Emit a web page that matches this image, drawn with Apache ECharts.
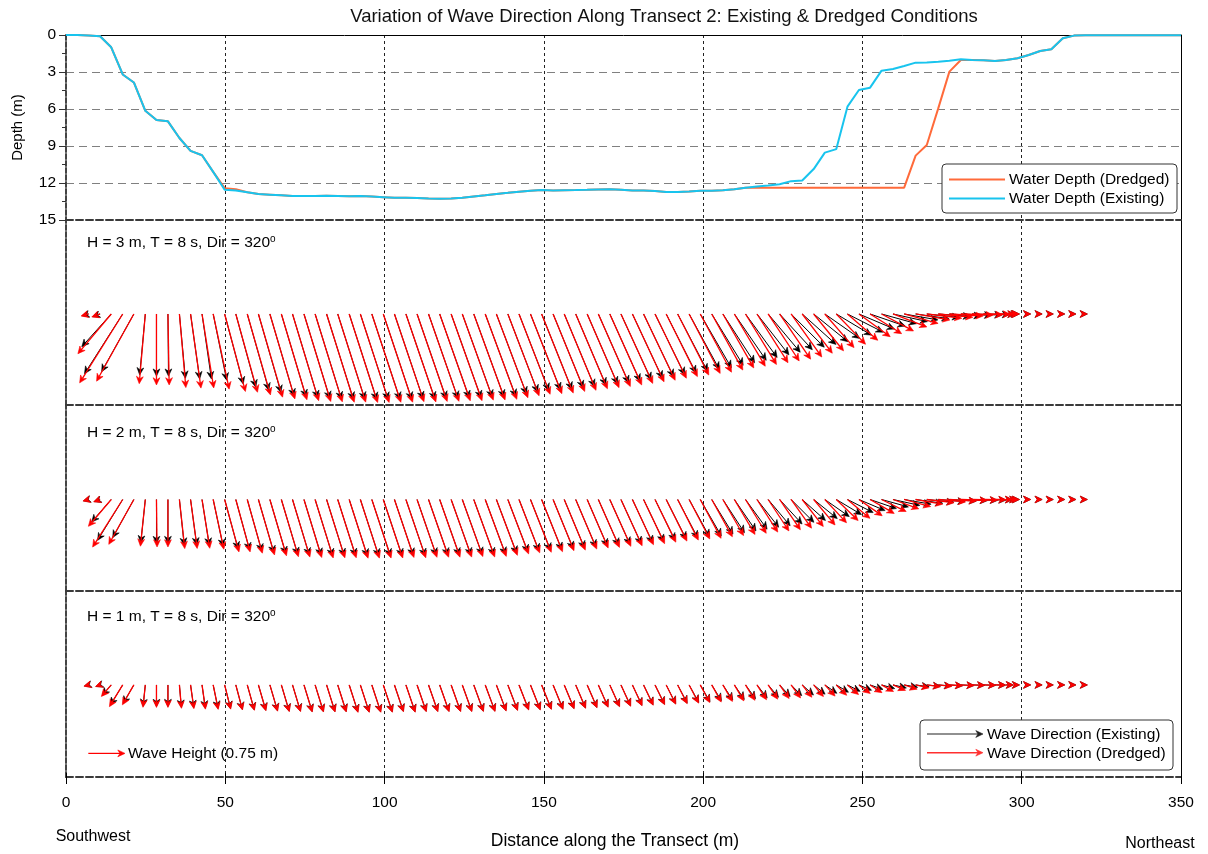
<!DOCTYPE html>
<html><head><meta charset="utf-8">
<script src="https://cdn.jsdelivr.net/npm/echarts@6/dist/echarts.min.js"></script>
<style>html,body{margin:0;padding:0;background:#fff}#c{width:1208px;height:854px}</style>
</head><body><div id="c"></div>
<script>
const FONT = '"Liberation Sans", Arial, Helvetica, sans-serif';

// ---------- DATA ----------
const xTicks = [0, 50, 100, 150, 200, 250, 300, 350];
const depthTicks = [0, 3, 6, 9, 12, 15];

// depth profile stations (m along transect)
const profileX = [
  0.0, 3.6, 7.1, 10.7, 14.2, 17.8, 21.3, 24.9, 28.4, 32.0,
  35.6, 39.1, 42.7, 46.2, 49.8, 53.3, 56.9, 60.4, 64.0, 67.6,
  71.1, 74.7, 78.2, 81.8, 85.3, 88.9, 92.4, 96.0, 99.6, 103.1,
  106.7, 110.2, 113.8, 117.3, 120.9, 124.4, 128.0, 131.6, 135.1, 138.7,
  142.2, 145.8, 149.3, 152.9, 156.4, 160.0, 163.6, 167.1, 170.7, 174.2,
  177.8, 181.3, 184.9, 188.4, 192.0, 195.6, 199.1, 202.7, 206.2, 209.8,
  213.3, 216.9, 220.4, 224.0, 227.6, 231.1, 234.7, 238.2, 241.8, 245.3,
  248.9, 252.4, 256.0, 259.6, 263.1, 266.7, 270.2, 273.8, 277.3, 280.9,
  284.4, 288.0, 291.6, 295.1, 298.7, 302.2, 305.8, 309.3, 312.9, 316.4,
  320.0, 350.0
];
const depthExisting = [
  0, 0, 0.05, 0.1, 1.0, 3.2, 3.85, 6.15, 6.9, 7.0,
  8.35, 9.4, 9.75, 11.1, 12.55, 12.6, 12.75, 12.9, 12.95, 13.0,
  13.05, 13.05, 13.05, 13.03, 13.05, 13.07, 13.05, 13.1, 13.15, 13.2,
  13.2, 13.22, 13.25, 13.27, 13.25, 13.2, 13.1, 13.0, 12.9, 12.8,
  12.7, 12.62, 12.57, 12.6, 12.58, 12.57, 12.55, 12.52, 12.5, 12.55,
  12.6, 12.6, 12.65, 12.72, 12.72, 12.68, 12.63, 12.62, 12.58, 12.5,
  12.38, 12.28, 12.2, 12.1, 11.85, 11.8, 10.87, 9.54, 9.25, 5.81,
  4.46, 4.27, 2.89, 2.76, 2.51, 2.24, 2.22, 2.16, 2.08, 1.97,
  2.03, 2.05, 2.11, 2.03, 1.89, 1.62, 1.3, 1.16, 0.27, 0.05,
  0.03, 0.03
];
const depthDredged = [
  0, 0, 0.05, 0.1, 1.0, 3.2, 3.85, 6.15, 6.9, 7.0,
  8.35, 9.4, 9.75, 11.1, 12.42, 12.5, 12.75, 12.9, 12.95, 13.0,
  13.05, 13.05, 13.05, 13.03, 13.05, 13.07, 13.05, 13.1, 13.15, 13.2,
  13.2, 13.22, 13.25, 13.27, 13.25, 13.2, 13.1, 13.0, 12.9, 12.8,
  12.7, 12.62, 12.57, 12.6, 12.58, 12.57, 12.55, 12.52, 12.5, 12.55,
  12.6, 12.6, 12.65, 12.72, 12.72, 12.68, 12.63, 12.62, 12.58, 12.5,
  12.38, 12.38, 12.38, 12.38, 12.38, 12.38, 12.38, 12.38, 12.38, 12.38,
  12.38, 12.38, 12.38, 12.38, 12.38, 9.78, 8.92, 5.95, 2.97, 2.03,
  2.03, 2.05, 2.11, 2.03, 1.89, 1.62, 1.3, 1.16, 0.27, 0.05,
  0.03, 0.03
];

// wave vector stations
const waveX = [
  7.1, 10.7, 14.2, 17.8, 21.3, 24.9, 28.4, 32.0, 35.6, 39.1,
  42.7, 46.2, 49.8, 53.3, 56.9, 60.4, 64.0, 67.6, 71.1, 74.7,
  78.2, 81.8, 85.3, 88.9, 92.4, 96.0, 99.6, 103.1, 106.7, 110.2,
  113.8, 117.3, 120.9, 124.4, 128.0, 131.6, 135.1, 138.7, 142.2, 145.8,
  149.3, 152.9, 156.4, 160.0, 163.6, 167.1, 170.7, 174.2, 177.8, 181.3,
  184.9, 188.4, 192.0, 195.6, 199.1, 202.7, 206.2, 209.8, 213.3, 216.9,
  220.4, 224.0, 227.6, 231.1, 234.7, 238.2, 241.8, 245.3, 248.9, 252.4,
  256.0, 259.6, 263.1, 266.7, 270.2, 273.8, 277.3, 280.9, 284.4, 288.0,
  291.6, 295.1, 298.7, 302.2, 305.8, 309.3, 312.9, 316.4, 320.0
];
// arrow direction on the page (deg clockwise from pointing right) and wave height (m)
const h3DirExisting = [
  165, 160, 132, 122.6, 119.2, 95.3, 90, 89.5, 84.7, 82,
  81.8, 78.5, 75.1, 74.7, 74.2, 74, 73.6, 73.4, 73.2, 73,
  72.8, 72.6, 72.4, 72.2, 72, 71.8, 71.6, 71.4, 71.2, 71,
  70.8, 70.6, 70.4, 70.2, 70, 69.7, 69.4, 69.1, 68.8, 68.5,
  68.2, 67.8, 67.4, 67, 66.6, 66.2, 65.8, 65.4, 65, 64.5,
  64, 63.2, 62.4, 61.4, 60, 58.5, 57, 55.5, 54, 52,
  50, 47.5, 45, 42, 39, 35, 31, 27, 23, 19,
  15.5, 12.5, 10, 8, 6, 4.5, 3.5, 2.5, 2, 1.5,
  1, 0.5, 0, 0, 0, 0, 0, 0, 0
];
const h3HtExisting = [
  0.14, 0.16, 0.90, 1.45, 1.35, 1.25, 1.27, 1.27, 1.32, 1.34,
  1.34, 1.38, 1.48, 1.55, 1.62, 1.67, 1.75, 1.77, 1.79, 1.81,
  1.82, 1.83, 1.83, 1.84, 1.84, 1.84, 1.84, 1.83, 1.84, 1.83,
  1.83, 1.82, 1.82, 1.81, 1.81, 1.80, 1.75, 1.71, 1.68, 1.67,
  1.66, 1.63, 1.61, 1.58, 1.56, 1.54, 1.51, 1.48, 1.45, 1.42,
  1.38, 1.35, 1.32, 1.29, 1.27, 1.23, 1.19, 1.15, 1.10, 1.06,
  1.02, 0.99, 0.96, 0.93, 0.90, 0.87, 0.84, 0.82, 0.79, 0.76,
  0.74, 0.72, 0.70, 0.69, 0.67, 0.66, 0.65, 0.63, 0.61, 0.53,
  0.41, 0.25, 0.04, 0.04, 0.04, 0.04, 0.04, 0.04, 0.04
];
const h3DirDredged = [
  165, 160, 130, 122, 119, 95, 90, 89, 85, 82,
  81, 78, 75, 74.5, 74, 73.8, 73.6, 73.4, 73.2, 73,
  72.8, 72.6, 72.4, 72.2, 72, 71.8, 71.6, 71.4, 71.2, 71,
  70.8, 70.6, 70.4, 70.2, 70, 69.7, 69.4, 69.1, 68.8, 68.5,
  68.2, 67.8, 67.4, 67, 66.6, 66.2, 65.8, 65.4, 65, 64.5,
  64, 63.5, 63, 62.4, 61.8, 61, 60.2, 59.4, 58.5, 57.5,
  56.5, 55.5, 54.5, 52.5, 51, 49, 46, 41, 36, 32,
  28, 21, 15.5, 10, 7, 5.5, 3.5, 2, 1.5, 0.6,
  0.3, 0, 0, 0, 0, 0, 0, 0, 0
];
const h3HtDredged = [
  0.16, 0.18, 1.06, 1.66, 1.57, 1.43, 1.45, 1.45, 1.51, 1.53,
  1.53, 1.57, 1.64, 1.66, 1.72, 1.77, 1.81, 1.83, 1.85, 1.87,
  1.88, 1.89, 1.89, 1.90, 1.90, 1.90, 1.90, 1.89, 1.90, 1.89,
  1.89, 1.88, 1.88, 1.87, 1.87, 1.86, 1.83, 1.79, 1.76, 1.75,
  1.74, 1.71, 1.69, 1.66, 1.64, 1.62, 1.59, 1.56, 1.53, 1.50,
  1.46, 1.43, 1.40, 1.37, 1.35, 1.31, 1.27, 1.24, 1.21, 1.18,
  1.15, 1.12, 1.08, 1.01, 0.97, 0.91, 0.86, 0.82, 0.79, 0.76,
  0.74, 0.74, 0.72, 0.71, 0.72, 0.71, 0.69, 0.66, 0.63, 0.55,
  0.41, 0.25, 0.04, 0.04, 0.04, 0.04, 0.04, 0.04, 0.04
];
const h2DirExisting = [
  165, 160, 131, 121.6, 119, 96, 90, 90, 84, 82.3,
  81, 78, 74.8, 74.7, 74.3, 73.8, 73.6, 73.4, 73.2, 73,
  72.8, 72.6, 72.4, 72.2, 72, 71.8, 71.6, 71.4, 71.2, 71,
  70.8, 70.6, 70.4, 70.2, 70, 69.7, 69.4, 69.1, 68.8, 68.5,
  68.2, 67.8, 67.4, 67, 66.6, 66.2, 65.8, 65.4, 65, 64.5,
  64, 63.2, 62.4, 61.4, 60, 58.5, 57, 55.5, 54, 52,
  50, 47.5, 45, 42, 39, 35, 31, 27, 23, 19,
  15.5, 12.5, 10, 8, 6, 4.5, 3.5, 2.5, 2, 1.5,
  1, 0.5, 0, 0, 0, 0, 0, 0, 0
];
const h2HtExisting = [
  0.11, 0.13, 0.61, 0.98, 0.89, 0.89, 0.90, 0.90, 0.94, 0.94,
  0.95, 0.98, 1.05, 1.07, 1.10, 1.14, 1.16, 1.18, 1.19, 1.20,
  1.21, 1.21, 1.21, 1.22, 1.22, 1.22, 1.22, 1.21, 1.22, 1.21,
  1.21, 1.21, 1.21, 1.20, 1.21, 1.20, 1.18, 1.15, 1.13, 1.12,
  1.11, 1.09, 1.08, 1.06, 1.04, 1.03, 1.01, 1.00, 0.98, 0.96,
  0.93, 0.91, 0.89, 0.87, 0.86, 0.83, 0.81, 0.78, 0.75, 0.72,
  0.70, 0.68, 0.66, 0.64, 0.62, 0.61, 0.60, 0.59, 0.58, 0.57,
  0.57, 0.56, 0.56, 0.56, 0.56, 0.55, 0.55, 0.54, 0.52, 0.46,
  0.36, 0.22, 0.04, 0.04, 0.04, 0.04, 0.04, 0.04, 0.04
];
const h2DirDredged = [
  165, 160, 130.4, 122.3, 119.2, 96, 89.3, 90, 83.8, 82.3,
  81, 77.9, 74.7, 74.7, 74.3, 73.8, 73.6, 73.4, 73.2, 73,
  72.8, 72.6, 72.4, 72.2, 72, 71.8, 71.6, 71.4, 71.2, 71,
  70.8, 70.6, 70.4, 70.2, 70, 69.7, 69.4, 69.1, 68.8, 68.5,
  68.2, 67.8, 67.4, 67, 66.6, 66.2, 65.8, 65.4, 65, 64.5,
  64, 63.5, 63, 62.4, 61.8, 61, 60.2, 59.4, 58.5, 57.5,
  56.5, 55.5, 54.5, 52, 50, 47, 44, 40, 35, 30,
  26, 20, 15, 10, 7, 5, 3.5, 2, 1.5, 0.6,
  0.3, 0, 0, 0, 0, 0, 0, 0, 0
];
const h2HtDredged = [
  0.12, 0.14, 0.72, 1.15, 1.05, 0.96, 0.97, 0.97, 1.01, 1.01,
  1.01, 1.04, 1.11, 1.11, 1.14, 1.18, 1.20, 1.22, 1.23, 1.24,
  1.25, 1.25, 1.25, 1.26, 1.26, 1.26, 1.26, 1.25, 1.26, 1.25,
  1.25, 1.25, 1.25, 1.24, 1.25, 1.24, 1.22, 1.19, 1.17, 1.16,
  1.15, 1.13, 1.12, 1.10, 1.08, 1.07, 1.05, 1.04, 1.02, 1.00,
  0.97, 0.95, 0.93, 0.91, 0.90, 0.87, 0.85, 0.83, 0.81, 0.79,
  0.77, 0.75, 0.72, 0.70, 0.68, 0.65, 0.62, 0.60, 0.58, 0.57,
  0.56, 0.56, 0.56, 0.56, 0.56, 0.56, 0.55, 0.54, 0.52, 0.46,
  0.36, 0.22, 0.04, 0.04, 0.04, 0.04, 0.04, 0.04, 0.04
];
const h1DirExisting = [
  165, 160, 131, 121.5, 120, 96, 90, 90, 85, 82,
  82, 78.4, 76, 75, 74.3, 73.8, 73.6, 73.4, 73.2, 73,
  72.8, 72.6, 72.4, 72.2, 72, 71.8, 71.6, 71.4, 71.2, 71,
  70.8, 70.6, 70.4, 70.2, 70, 69.7, 69.4, 69.1, 68.8, 68.5,
  68.2, 67.8, 67.4, 67, 66.6, 66.2, 65.8, 65.4, 65, 64.5,
  64, 63.2, 62.4, 61.4, 60, 58.5, 57, 55.5, 54, 52,
  50, 47.5, 45, 42, 39, 35, 31, 27, 23, 19,
  15.5, 12.5, 10, 8, 6, 4.5, 3.5, 2.5, 2, 1.5,
  1, 0.5, 0, 0, 0, 0, 0, 0, 0
];
const h1HtExisting = [
  0.09, 0.09, 0.28, 0.48, 0.44, 0.44, 0.44, 0.44, 0.46, 0.47,
  0.48, 0.49, 0.50, 0.52, 0.53, 0.54, 0.55, 0.56, 0.56, 0.57,
  0.57, 0.57, 0.57, 0.58, 0.58, 0.58, 0.58, 0.57, 0.58, 0.57,
  0.57, 0.57, 0.57, 0.57, 0.57, 0.57, 0.56, 0.55, 0.54, 0.54,
  0.53, 0.53, 0.52, 0.51, 0.50, 0.49, 0.48, 0.47, 0.46, 0.45,
  0.44, 0.43, 0.42, 0.41, 0.40, 0.38, 0.37, 0.36, 0.35, 0.34,
  0.33, 0.32, 0.31, 0.31, 0.30, 0.30, 0.29, 0.29, 0.28, 0.28,
  0.28, 0.28, 0.28, 0.28, 0.28, 0.27, 0.27, 0.27, 0.26, 0.25,
  0.22, 0.15, 0.04, 0.04, 0.04, 0.04, 0.04, 0.04, 0.04
];
const h1DirDredged = [
  165, 160, 130.5, 121.5, 120, 96, 90, 90, 85, 82,
  82, 78.4, 76, 75, 74.3, 73.8, 73.6, 73.4, 73.2, 73,
  72.8, 72.6, 72.4, 72.2, 72, 71.8, 71.6, 71.4, 71.2, 71,
  70.8, 70.6, 70.4, 70.2, 70, 69.7, 69.4, 69.1, 68.8, 68.5,
  68.2, 67.8, 67.4, 67, 66.6, 66.2, 65.8, 65.4, 65, 64.5,
  64, 63.5, 63, 62.4, 61.8, 61, 60, 59.2, 58.5, 57.2,
  56, 55, 54, 52, 50, 47.5, 45, 41, 37, 33,
  29, 23.5, 18, 12.5, 8, 6, 4, 2.5, 1.5, 1,
  0.5, 0, 0, 0, 0, 0, 0, 0, 0
];
const h1HtDredged = [
  0.10, 0.10, 0.31, 0.52, 0.47, 0.46, 0.46, 0.46, 0.48, 0.49,
  0.50, 0.51, 0.51, 0.53, 0.54, 0.55, 0.56, 0.57, 0.57, 0.58,
  0.58, 0.58, 0.58, 0.59, 0.59, 0.59, 0.59, 0.58, 0.59, 0.58,
  0.58, 0.58, 0.58, 0.58, 0.58, 0.58, 0.57, 0.56, 0.55, 0.55,
  0.54, 0.54, 0.53, 0.52, 0.51, 0.50, 0.49, 0.48, 0.47, 0.46,
  0.45, 0.44, 0.43, 0.42, 0.41, 0.40, 0.39, 0.38, 0.37, 0.36,
  0.35, 0.34, 0.33, 0.32, 0.31, 0.31, 0.30, 0.30, 0.29, 0.29,
  0.28, 0.28, 0.28, 0.28, 0.28, 0.28, 0.27, 0.27, 0.26, 0.25,
  0.22, 0.15, 0.04, 0.04, 0.04, 0.04, 0.04, 0.04, 0.04
];
const refArrowHeight = 0.75; // legend arrow (m)
const panelLabels = ['H = 3 m, T = 8 s, Dir = 320', 'H = 2 m, T = 8 s, Dir = 320', 'H = 1 m, T = 8 s, Dir = 320'];

// ---------- STYLE / LAYOUT ----------
const C_DREDGED_LINE = '#FF6A3A';
const C_EXIST_LINE = '#18C4EE';
const C_RED = '#FF0000';
const C_BLACK = '#000000';
const QUIVER = 15.36;            // x-axis units drawn per metre of wave height
const BASE = [0.492, 0.492, 0.495];
const LEFT = 66, RIGHT = 27;
const grids = [
  {top: 35, height: 185}, {top: 220, height: 185}, {top: 405, height: 186}, {top: 591, height: 186}
];

function arrowShape(p0, ang, len, color, lw) {
  const a = ang * Math.PI / 180, ux = Math.cos(a), uy = Math.sin(a);
  const tip = [p0[0] + len * ux, p0[1] + len * uy];
  const HL = 7.2, HW = 3.4, NOTCH = 2.2;
  const bx = tip[0] - HL * ux, by = tip[1] - HL * uy;
  const nx = -uy, ny = ux;
  const mid = [tip[0] - (HL - NOTCH) * ux, tip[1] - (HL - NOTCH) * uy];
  const kids = [];
  if (len > HL - NOTCH) {
    kids.push({type: 'line', shape: {x1: p0[0], y1: p0[1], x2: mid[0], y2: mid[1]},
      style: {stroke: color, lineWidth: lw}});
  }
  kids.push({type: 'polygon', shape: {points: [tip, [bx + HW * nx, by + HW * ny], mid, [bx - HW * nx, by - HW * ny]]},
    style: {fill: color, stroke: color, lineWidth: 0.6, lineJoin: 'miter'}});
  return kids;
}
function quiverSeries(gi, dirs, hts, color, lw, base) {
  return {
    type: 'custom', xAxisIndex: gi, yAxisIndex: gi, silent: true, z: 5,
    data: waveX.map((x, i) => [x, dirs[i], hts[i]]),
    renderItem: function (params, api) {
      const p0 = api.coord([api.value(0), base]);
      const len = api.size([api.value(2) * QUIVER, 0])[0];
      return {type: 'group', children: arrowShape(p0, api.value(1), len, color, lw)};
    }
  };
}

const xAxes = grids.map((g, k) => ({
  gridIndex: k, type: 'value', min: xTicks[0], max: xTicks[xTicks.length - 1], interval: 50, position: 'bottom',
  axisLine: {show: true, onZero: false, lineStyle: {color: '#3a3a3a', width: 2, type: [7, 3]}},
  axisTick: k === 3 ? {show: true, length: 7, lineStyle: {color: '#000', width: 1}} : {show: false},
  axisLabel: k === 3 ? {show: true, fontSize: 15.5, color: '#000', fontFamily: FONT, margin: 18, showMinLabel: true, showMaxLabel: true} : {show: false},
  splitLine: {show: true, showMinLine: false, showMaxLine: false, lineStyle: {color: '#222', width: 1, type: [3, 3]}}
}));
xAxes.push({
  gridIndex: 0, type: 'value', min: 0, max: 350, position: 'top',
  axisLine: {show: true, onZero: false, lineStyle: {color: '#000', width: 1}},
  axisTick: {show: false}, axisLabel: {show: false}, splitLine: {show: false}
});
xAxes.push({
  gridIndex: 3, type: 'value', min: 0, max: 350, interval: 50, position: 'bottom', offset: 0,
  axisLine: {show: false}, axisTick: {show: true, inside: true, length: 4, lineStyle: {color: '#000', width: 1}},
  axisLabel: {show: false}, splitLine: {show: false}
});

const yAxes = [{
  gridIndex: 0, type: 'value', inverse: true, min: depthTicks[0], max: depthTicks[depthTicks.length - 1], interval: 3, position: 'left',
  name: 'Depth (m)', nameLocation: 'middle', nameRotate: 90, nameGap: 41,
  nameTextStyle: {fontSize: 15, color: '#000', fontFamily: FONT},
  axisLine: {show: true, onZero: false, lineStyle: {color: '#444', width: 2, type: [5, 2]}},
  axisTick: {show: true, length: 7, lineStyle: {color: '#333'}},
  minorTick: {show: true, splitNumber: 2, length: 4, lineStyle: {color: '#333'}},
  axisLabel: {fontSize: 15.5, color: '#000', fontFamily: FONT, margin: 10, showMinLabel: true, showMaxLabel: true},
  splitLine: {show: true, showMinLine: false, showMaxLine: false, lineStyle: {color: '#808080', width: 1.2, type: [8, 5]}}
}];
for (let k = 1; k < 4; k++) {
  yAxes.push({
    gridIndex: k, type: 'value', min: 0, max: 1, position: 'left',
    axisLine: {show: true, onZero: false, lineStyle: {color: '#444', width: 2, type: [5, 2]}},
    axisTick: {show: false}, axisLabel: {show: false}, splitLine: {show: false}
  });
}
for (let k = 0; k < 4; k++) {
  yAxes.push({
    gridIndex: k, type: 'value', min: 0, max: k === 0 ? 15 : 1, position: 'right',
    axisLine: {show: true, onZero: false, lineStyle: {color: '#000', width: 1}},
    axisTick: {show: false}, axisLabel: {show: false}, splitLine: {show: false}
  });
}

const series = [
  {type: 'line', name: 'Water Depth (Dredged)', xAxisIndex: 0, yAxisIndex: 0, symbol: 'none', z: 3,
    lineStyle: {color: C_DREDGED_LINE, width: 2}, data: profileX.map((x, i) => [x, depthDredged[i]])},
  {type: 'line', name: 'Water Depth (Existing)', xAxisIndex: 0, yAxisIndex: 0, symbol: 'none', z: 4,
    lineStyle: {color: C_EXIST_LINE, width: 2}, data: profileX.map((x, i) => [x, depthExisting[i]])},
  quiverSeries(1, h3DirExisting, h3HtExisting, C_BLACK, 1, BASE[0]),
  quiverSeries(1, h3DirDredged, h3HtDredged, C_RED, 1.3, BASE[0]),
  quiverSeries(2, h2DirExisting, h2HtExisting, C_BLACK, 1, BASE[1]),
  quiverSeries(2, h2DirDredged, h2HtDredged, C_RED, 1.3, BASE[1]),
  quiverSeries(3, h1DirExisting, h1HtExisting, C_BLACK, 1, BASE[2]),
  quiverSeries(3, h1DirDredged, h1HtDredged, C_RED, 1.3, BASE[2]),
  {
    type: 'custom', xAxisIndex: 3, yAxisIndex: 3, silent: true, z: 5,
    data: [[7.0, 0, refArrowHeight]],
    renderItem: function (params, api) {
      const p0 = api.coord([api.value(0), 0.127]);
      const len = api.size([api.value(2) * QUIVER, 0])[0];
      return {type: 'group', children: arrowShape(p0, api.value(1), len, C_RED, 1.2).concat([
        {type: 'text', style: {text: 'Wave Height (0.75 m)', x: p0[0] + len + 3, y: p0[1], fontSize: 15.5, fontFamily: FONT, fill: '#000', verticalAlign: 'middle'}}
      ])};
    }
  }
];

function txt(text, x, y, size, align, extra) {
  return Object.assign({type: 'text', z: 100, style: {text: text, x: x, y: y, fontSize: size, fontFamily: FONT, fill: '#000', align: align || 'left', verticalAlign: 'middle'}}, extra || {});
}
const panelY = [243, 433, 617];
const graphics = [
  txt('Variation of Wave Direction Along Transect 2: Existing & Dredged Conditions', 664, 17, 18.5, 'center', {style: {text: 'Variation of Wave Direction Along Transect 2: Existing & Dredged Conditions', x: 664, y: 17, fontSize: 18.5, fontFamily: FONT, fill: '#111', align: 'center', verticalAlign: 'middle'}}),
  txt('Southwest', 93, 837, 16, 'center'),
  txt('Distance along the Transect (m)', 615, 841, 17.5, 'center'),
  txt('Northeast', 1160, 844, 16, 'center'),
  // depth legend
  {type: 'rect', z: 100, shape: {x: 942, y: 164, width: 235, height: 49, r: 4}, style: {fill: '#fff', stroke: '#333', lineWidth: 1}},
  {type: 'line', z: 101, shape: {x1: 949, y1: 179.5, x2: 1005, y2: 179.5}, style: {stroke: C_DREDGED_LINE, lineWidth: 2}},
  {type: 'line', z: 101, shape: {x1: 949, y1: 198.5, x2: 1005, y2: 198.5}, style: {stroke: C_EXIST_LINE, lineWidth: 2}},
  txt('Water Depth (Dredged)', 1009, 180, 15.5, 'left', {z: 101}),
  txt('Water Depth (Existing)', 1009, 199, 15.5, 'left', {z: 101}),
  // direction legend
  {type: 'rect', z: 100, shape: {x: 920, y: 720, width: 253, height: 50, r: 4}, style: {fill: '#fff', stroke: '#333', lineWidth: 1}},
  {type: 'group', z: 101, children: arrowShape([927, 734], 0, 56, '#222', 1.2).map(c => Object.assign(c, {z: 101}))},
  {type: 'group', z: 101, children: arrowShape([927, 752.7], 0, 56, '#FF3030', 1.6).map(c => Object.assign(c, {z: 101}))},
  txt('Wave Direction (Existing)', 987, 734.5, 15.5, 'left', {z: 101}),
  txt('Wave Direction (Dredged)', 987, 753.5, 15.5, 'left', {z: 101})
];
panelLabels.forEach((t, k) => {
  graphics.push({type: 'text', z: 100, style: {
    text: '{a|' + t + '}{s|o}', x: 87, y: panelY[k], verticalAlign: 'middle',
    rich: {a: {fontSize: 15.5, fontFamily: FONT, fill: '#000', lineHeight: 18},
           s: {fontSize: 10, fontFamily: FONT, fill: '#000', lineHeight: 18, verticalAlign: 'top'}}
  }});
});

const chart = echarts.init(document.getElementById('c'), null, {renderer: 'canvas'});
chart.setOption({
  animation: false,
  backgroundColor: '#fff',
  grid: grids.map(g => ({left: LEFT, right: RIGHT, top: g.top, height: g.height, containLabel: false, outerBoundsMode: 'none'})),
  xAxis: xAxes,
  yAxis: yAxes,
  series: series,
  graphic: graphics
});
</script></body></html>
